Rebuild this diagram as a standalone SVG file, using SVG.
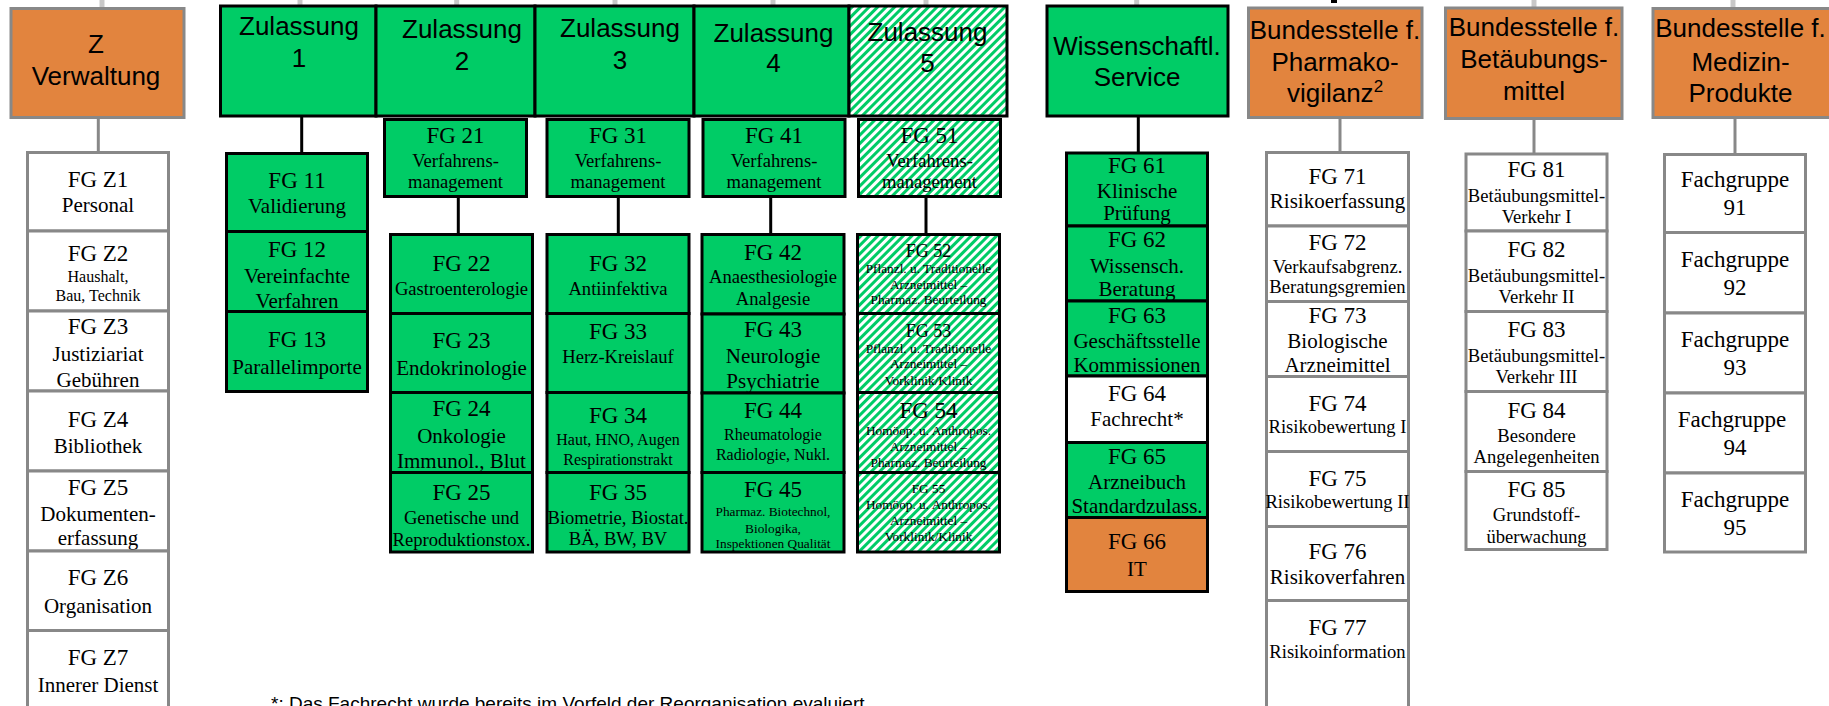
<svg xmlns="http://www.w3.org/2000/svg" width="1829" height="706" viewBox="0 0 1829 706">
<style>
.h{font-family:"Liberation Sans",Arial,sans-serif;font-size:26px;fill:#000;text-anchor:middle}
.t{font-family:"Liberation Serif","Times New Roman",serif;fill:#000;text-anchor:middle}
.l{font-size:23px}.m{font-size:21px}.s{font-size:18.6px}.xs{font-size:16px}.xxs{font-size:13.3px}
.g{fill:#00CC66;stroke:#000;stroke-width:3}
.gh{fill:url(#hatch);stroke:#000;stroke-width:3}
.o{fill:#E2843E;stroke:#888;stroke-width:3}
.ob{fill:#E2843E;stroke:#000;stroke-width:3}
.w{fill:#fff;stroke:#888;stroke-width:3}
.wb{fill:#fff;stroke:#000;stroke-width:3}
.cb{stroke:#000;stroke-width:3;fill:none}
.cg{stroke:#888;stroke-width:3;fill:none}
.st{stroke:#c8c8c8;stroke-width:5;fill:none}
.fn{font-family:"Liberation Sans",Arial,sans-serif;font-size:19px;fill:#000}
</style>
<defs>
<pattern id="hatch" patternUnits="userSpaceOnUse" width="6" height="6" patternTransform="rotate(45)">
<rect width="6" height="6" fill="#fff"/><rect width="3" height="6" fill="#00CC66"/>
</pattern>
</defs>
<rect width="1829" height="706" fill="#fff"/>

<g id="connectors">
<line class="st" x1="102" y1="0" x2="102" y2="8"/>
<line class="st" x1="300" y1="0" x2="300" y2="5"/>
<line class="st" x1="456.7" y1="0" x2="456.7" y2="5"/>
<line class="st" x1="615" y1="0" x2="615" y2="5"/>
<line class="st" x1="773" y1="0" x2="773" y2="5"/>
<line class="st" x1="926" y1="0" x2="926" y2="5"/>
<line class="st" x1="1136.7" y1="0" x2="1136.7" y2="5"/>
<line x1="1334" y1="0" x2="1334" y2="3" stroke="#000" stroke-width="6"/>
<line class="st" x1="1534" y1="0" x2="1534" y2="7"/>
<line class="st" x1="1733" y1="0" x2="1733" y2="8"/>
<line class="cg" x1="98.3" y1="118" x2="98.3" y2="152"/>
<line class="cb" x1="301.7" y1="116" x2="301.7" y2="153"/>
<line class="cb" x1="458.3" y1="197" x2="458.3" y2="234"/>
<line class="cb" x1="618.3" y1="197" x2="618.3" y2="234"/>
<line class="cb" x1="770.7" y1="197" x2="770.7" y2="234"/>
<line class="cb" x1="926" y1="197" x2="926" y2="234"/>
<line class="cb" x1="1138.3" y1="116" x2="1138.3" y2="153"/>
<line class="cg" x1="1340" y1="118" x2="1340" y2="152"/>
<line class="cg" x1="1534" y1="119" x2="1534" y2="154"/>
<line class="cg" x1="1735" y1="118" x2="1735" y2="154"/>
</g>

<!-- Header nodes -->
<g id="z-verwaltung"><rect class="o" x="11" y="8.5" width="173" height="109"/>
<text class="h"><tspan x="96" y="53.3">Z</tspan><tspan x="96" y="85">Verwaltung</tspan></text></g>
<g id="zulassung-1"><rect class="g" x="220.5" y="6" width="155.5" height="110"/>
<text class="h"><tspan x="299" y="35">Zulassung</tspan><tspan x="299" y="66.7">1</tspan></text></g>
<g id="zulassung-2"><rect class="g" x="376" y="6" width="159" height="110"/>
<text class="h"><tspan x="462" y="38">Zulassung</tspan><tspan x="462" y="69.5">2</tspan></text></g>
<g id="zulassung-3"><rect class="g" x="535" y="6" width="159" height="110"/>
<text class="h"><tspan x="620" y="36.7">Zulassung</tspan><tspan x="620" y="69">3</tspan></text></g>
<g id="zulassung-4"><rect class="g" x="694" y="6" width="155" height="110"/>
<text class="h"><tspan x="773.5" y="41.5">Zulassung</tspan><tspan x="773.5" y="71.5">4</tspan></text></g>
<g id="zulassung-5"><rect class="gh" x="849" y="6" width="158" height="110"/>
<text class="h"><tspan x="927.5" y="41">Zulassung</tspan><tspan x="927.5" y="71.5">5</tspan></text></g>
<g id="wiss-service"><rect class="g" x="1047" y="6" width="181" height="110"/>
<text class="h"><tspan x="1137" y="55">Wissenschaftl.</tspan><tspan x="1137" y="86">Service</tspan></text></g>
<g id="bs-pharmakovigilanz"><rect class="o" x="1248.5" y="8" width="173.5" height="109.5"/>
<text class="h"><tspan x="1335" y="39">Bundesstelle f.</tspan><tspan x="1335" y="71">Pharmako-</tspan><tspan x="1335" y="101.7">vigilanz<tspan dy="-10" font-size="17">2</tspan></tspan></text></g>
<g id="bs-betaeubungsmittel"><rect class="o" x="1445.5" y="8" width="176.5" height="110.5"/>
<text class="h"><tspan x="1534" y="35.7">Bundesstelle f.</tspan><tspan x="1534" y="68.3">Betäubungs-</tspan><tspan x="1534" y="100">mittel</tspan></text></g>
<g id="bs-medizinprodukte"><rect class="o" x="1653" y="8.5" width="178" height="109"/>
<text class="h"><tspan x="1740.5" y="36.7">Bundesstelle f.</tspan><tspan x="1740.5" y="71">Medizin-</tspan><tspan x="1740.5" y="101.7">Produkte</tspan></text></g>

<!-- Z column -->
<g id="fg-z1"><rect class="w" x="27.5" y="152.5" width="141" height="78.5"/>
<text class="t"><tspan class="l" x="98" y="186.7">FG Z1</tspan><tspan class="m" x="98" y="212.3">Personal</tspan></text></g>
<g id="fg-z2"><rect class="w" x="27.5" y="231" width="141" height="80"/>
<text class="t"><tspan class="l" x="98" y="260.7">FG Z2</tspan><tspan class="xs" x="98" y="281.7">Haushalt,</tspan><tspan class="xs" x="98" y="300.7">Bau, Technik</tspan></text></g>
<g id="fg-z3"><rect class="w" x="27.5" y="311" width="141" height="80"/>
<text class="t"><tspan class="l" x="98" y="334">FG Z3</tspan><tspan class="m" x="98" y="360.7">Justiziariat</tspan><tspan class="m" x="98" y="386.7">Gebühren</tspan></text></g>
<g id="fg-z4"><rect class="w" x="27.5" y="391" width="141" height="80"/>
<text class="t"><tspan class="l" x="98" y="427.3">FG Z4</tspan><tspan class="m" x="98" y="453.3">Bibliothek</tspan></text></g>
<g id="fg-z5"><rect class="w" x="27.5" y="471" width="141" height="80"/>
<text class="t"><tspan class="l" x="98" y="495">FG Z5</tspan><tspan class="m" x="98" y="521">Dokumenten-</tspan><tspan class="m" x="98" y="545">erfassung</tspan></text></g>
<g id="fg-z6"><rect class="w" x="27.5" y="551" width="141" height="79.5"/>
<text class="t"><tspan class="l" x="98" y="585">FG Z6</tspan><tspan class="m" x="98" y="612.7">Organisation</tspan></text></g>
<g id="fg-z7"><rect class="w" x="27.5" y="630.5" width="141" height="82"/>
<text class="t"><tspan class="l" x="98" y="665">FG Z7</tspan><tspan class="m" x="98" y="691.7">Innerer Dienst</tspan></text></g>

<!-- Zulassung 1 -->
<g id="fg-11"><rect class="g" x="226.5" y="153.5" width="141" height="78"/>
<text class="t"><tspan class="l" x="297" y="188.3">FG 11</tspan><tspan class="m" x="297" y="213.3">Validierung</tspan></text></g>
<g id="fg-12"><rect class="g" x="226.5" y="231.5" width="141" height="80"/>
<text class="t"><tspan class="l" x="297" y="256.7">FG 12</tspan><tspan class="m" x="297" y="282.7">Vereinfachte</tspan><tspan class="m" x="297" y="308.3">Verfahren</tspan></text></g>
<g id="fg-13"><rect class="g" x="226.5" y="311.5" width="141" height="80"/>
<text class="t"><tspan class="l" x="297" y="347.3">FG 13</tspan><tspan class="m" x="297" y="374.3">Parallelimporte</tspan></text></g>

<!-- Zulassung 2 -->
<g id="fg-21"><rect class="g" x="384.5" y="119.5" width="142" height="77"/>
<text class="t"><tspan class="l" x="455.5" y="143.3">FG 21</tspan><tspan class="s" x="455.5" y="166.7">Verfahrens-</tspan><tspan class="s" x="455.5" y="188.3">management</tspan></text></g>
<g id="fg-22"><rect class="g" x="390.5" y="234.5" width="142" height="79"/>
<text class="t"><tspan class="l" x="461.5" y="270.7">FG 22</tspan><tspan class="s" x="461.5" y="295">Gastroenterologie</tspan></text></g>
<g id="fg-23"><rect class="g" x="390.5" y="313.5" width="142" height="79"/>
<text class="t"><tspan class="l" x="461.5" y="348.3">FG 23</tspan><tspan class="m" x="461.5" y="375">Endokrinologie</tspan></text></g>
<g id="fg-24"><rect class="g" x="390.5" y="392.5" width="142" height="80"/>
<text class="t"><tspan class="l" x="461.5" y="416">FG 24</tspan><tspan class="m" x="461.5" y="443.3">Onkologie</tspan><tspan class="m" x="461.5" y="467.7">Immunol., Blut</tspan></text></g>
<g id="fg-25"><rect class="g" x="390.5" y="472.5" width="142" height="79.5"/>
<text class="t"><tspan class="l" x="461.5" y="500">FG 25</tspan><tspan class="s" x="461.5" y="524">Genetische und</tspan><tspan class="s" x="461.5" y="545.7">Reproduktionstox.</tspan></text></g>

<!-- Zulassung 3 -->
<g id="fg-31"><rect class="g" x="547" y="119.5" width="142" height="77"/>
<text class="t"><tspan class="l" x="618" y="143.3">FG 31</tspan><tspan class="s" x="618" y="166.7">Verfahrens-</tspan><tspan class="s" x="618" y="188.3">management</tspan></text></g>
<g id="fg-32"><rect class="g" x="547" y="234.5" width="142" height="79"/>
<text class="t"><tspan class="l" x="618" y="270.7">FG 32</tspan><tspan class="s" x="618" y="295">Antiinfektiva</tspan></text></g>
<g id="fg-33"><rect class="g" x="547" y="313.5" width="142" height="79"/>
<text class="t"><tspan class="l" x="618" y="339.3">FG 33</tspan><tspan class="s" x="618" y="363.3">Herz-Kreislauf</tspan></text></g>
<g id="fg-34"><rect class="g" x="547" y="392.5" width="142" height="80"/>
<text class="t"><tspan class="l" x="618" y="422.7">FG 34</tspan><tspan class="xs" x="618" y="445">Haut, HNO, Augen</tspan><tspan class="xs" x="618" y="465">Respirationstrakt</tspan></text></g>
<g id="fg-35"><rect class="g" x="547" y="472.5" width="142" height="79.5"/>
<text class="t"><tspan class="l" x="618" y="500">FG 35</tspan><tspan class="s" x="618" y="524">Biometrie, Biostat.</tspan><tspan class="s" x="618" y="545">BÄ, BW, BV</tspan></text></g>

<!-- Zulassung 4 -->
<g id="fg-41"><rect class="g" x="703" y="119.5" width="142" height="77"/>
<text class="t"><tspan class="l" x="774" y="143.3">FG 41</tspan><tspan class="s" x="774" y="166.7">Verfahrens-</tspan><tspan class="s" x="774" y="188.3">management</tspan></text></g>
<g id="fg-42"><rect class="g" x="702" y="234.5" width="142" height="79.5"/>
<text class="t"><tspan class="l" x="773" y="260">FG 42</tspan><tspan class="s" x="773" y="283.3">Anaesthesiologie</tspan><tspan class="s" x="773" y="305">Analgesie</tspan></text></g>
<g id="fg-43"><rect class="g" x="702" y="314" width="142" height="79"/>
<text class="t"><tspan class="l" x="773" y="336.7">FG 43</tspan><tspan class="m" x="773" y="363.3">Neurologie</tspan><tspan class="m" x="773" y="388.3">Psychiatrie</tspan></text></g>
<g id="fg-44"><rect class="g" x="702" y="393" width="142" height="79.5"/>
<text class="t"><tspan class="l" x="773" y="418.3">FG 44</tspan><tspan class="xs" x="773" y="440">Rheumatologie</tspan><tspan class="xs" x="773" y="460">Radiologie, Nukl.</tspan></text></g>
<g id="fg-45"><rect class="g" x="702" y="472.5" width="142" height="79.5"/>
<text class="t"><tspan class="l" x="773" y="496.7">FG 45</tspan><tspan class="xxs" x="773" y="516">Pharmaz. Biotechnol,</tspan><tspan class="xxs" x="773" y="532.7">Biologika,</tspan><tspan class="xxs" x="773" y="548.3">Inspektionen Qualität</tspan></text></g>

<!-- Zulassung 5 -->
<g id="fg-51"><rect class="gh" x="858.5" y="119.5" width="142" height="77"/>
<text class="t"><tspan class="l" x="929.5" y="143.3">FG 51</tspan><tspan class="s" x="929.5" y="166.7">Verfahrens-</tspan><tspan class="s" x="929.5" y="188.3">management</tspan></text></g>
<g id="fg-52"><rect class="gh" x="857.5" y="234.5" width="142" height="79"/>
<text class="t"><tspan x="928.5" y="256.7" font-size="18">FG 52</tspan><tspan class="xxs" x="928.5" y="273.3">Pflanzl. u. Traditionelle</tspan><tspan class="xxs" x="928.5" y="289.3">Arzneimittel –</tspan><tspan class="xxs" x="928.5" y="304">Pharmaz. Beurteilung</tspan></text></g>
<g id="fg-53"><rect class="gh" x="857.5" y="313.5" width="142" height="79"/>
<text class="t"><tspan x="928.5" y="336.7" font-size="18">FG 53</tspan><tspan class="xxs" x="928.5" y="353.3">Pflanzl. u. Traditionelle</tspan><tspan class="xxs" x="928.5" y="368.3">Arzneimittel –</tspan><tspan class="xxs" x="928.5" y="385">Vorklinik/Klinik</tspan></text></g>
<g id="fg-54"><rect class="gh" x="857.5" y="392.5" width="142" height="80"/>
<text class="t"><tspan class="l" x="928.5" y="418.3">FG 54</tspan><tspan class="xxs" x="928.5" y="435">Homöop. u. Anthropos.</tspan><tspan class="xxs" x="928.5" y="450.7">Arzneimittel –</tspan><tspan class="xxs" x="928.5" y="466.7">Pharmaz. Beurteilung</tspan></text></g>
<g id="fg-55"><rect class="gh" x="857.5" y="472.5" width="142" height="79.5"/>
<text class="t"><tspan class="xxs" x="928.5" y="493.3">FG 55</tspan><tspan class="xxs" x="928.5" y="509.3">Homöop. u. Anthropos.</tspan><tspan class="xxs" x="928.5" y="525">Arzneimittel –</tspan><tspan class="xxs" x="928.5" y="541">Vorklinik/Klinik</tspan></text></g>

<!-- Wissenschaftl. Service -->
<g id="fg-61"><rect class="g" x="1066.5" y="153" width="141" height="73"/>
<text class="t"><tspan class="l" x="1137" y="172.7">FG 61</tspan><tspan class="m" x="1137" y="198.3">Klinische</tspan><tspan class="m" x="1137" y="220">Prüfung</tspan></text></g>
<g id="fg-62"><rect class="g" x="1066.5" y="226" width="141" height="75"/>
<text class="t"><tspan class="l" x="1137" y="246.7">FG 62</tspan><tspan class="m" x="1137" y="272.7">Wissensch.</tspan><tspan class="m" x="1137" y="295.7">Beratung</tspan></text></g>
<g id="fg-63"><rect class="g" x="1066.5" y="301" width="141" height="75"/>
<text class="t"><tspan class="l" x="1137" y="322.7">FG 63</tspan><tspan class="m" x="1137" y="347.7">Geschäftsstelle</tspan><tspan class="m" x="1137" y="371.7">Kommissionen</tspan></text></g>
<g id="fg-64"><rect class="wb" x="1066.5" y="376" width="141" height="66.5"/>
<text class="t"><tspan class="l" x="1137" y="400.7">FG 64</tspan><tspan class="m" x="1137" y="425.7">Fachrecht*</tspan></text></g>
<g id="fg-65"><rect class="g" x="1066.5" y="442.5" width="141" height="75"/>
<text class="t"><tspan class="l" x="1137" y="464">FG 65</tspan><tspan class="m" x="1137" y="489.3">Arzneibuch</tspan><tspan class="m" x="1137" y="513.3">Standardzulass.</tspan></text></g>
<g id="fg-66"><rect class="ob" x="1066.5" y="517.5" width="141" height="74"/>
<text class="t"><tspan class="l" x="1137" y="549.3">FG 66</tspan><tspan class="m" x="1137" y="576">IT</tspan></text></g>

<!-- Pharmakovigilanz -->
<g id="fg-71"><rect class="w" x="1266.5" y="152.5" width="142" height="73.5"/>
<text class="t"><tspan class="l" x="1337.5" y="184.3">FG 71</tspan><tspan class="m" x="1337.5" y="208.3">Risikoerfassung</tspan></text></g>
<g id="fg-72"><rect class="w" x="1266.5" y="226" width="142" height="75.5"/>
<text class="t"><tspan class="l" x="1337.5" y="250">FG 72</tspan><tspan class="s" x="1337.5" y="273.3">Verkaufsabgrenz.</tspan><tspan class="s" x="1337.5" y="292.7">Beratungsgremien</tspan></text></g>
<g id="fg-73"><rect class="w" x="1266.5" y="301.5" width="142" height="75"/>
<text class="t"><tspan class="l" x="1337.5" y="322.7">FG 73</tspan><tspan class="m" x="1337.5" y="347.7">Biologische</tspan><tspan class="m" x="1337.5" y="371.7">Arzneimittel</tspan></text></g>
<g id="fg-74"><rect class="w" x="1266.5" y="376.5" width="142" height="75"/>
<text class="t"><tspan class="l" x="1337.5" y="410.7">FG 74</tspan><tspan class="s" x="1337.5" y="433.3">Risikobewertung I</tspan></text></g>
<g id="fg-75"><rect class="w" x="1266.5" y="451.5" width="142" height="75"/>
<text class="t"><tspan class="l" x="1337.5" y="485.7">FG 75</tspan><tspan class="s" x="1337.5" y="507.7">Risikobewertung II</tspan></text></g>
<g id="fg-76"><rect class="w" x="1266.5" y="526.5" width="142" height="74"/>
<text class="t"><tspan class="l" x="1337.5" y="559.3">FG 76</tspan><tspan class="m" x="1337.5" y="584.3">Risikoverfahren</tspan></text></g>
<g id="fg-77"><rect class="w" x="1266.5" y="600.5" width="142" height="112"/>
<text class="t"><tspan class="l" x="1337.5" y="635">FG 77</tspan><tspan class="s" x="1337.5" y="657.7">Risikoinformation</tspan></text></g>

<!-- Betäubungsmittel -->
<g id="fg-81"><rect class="w" x="1466" y="154" width="141" height="77"/>
<text class="t"><tspan class="l" x="1536.5" y="176.7">FG 81</tspan><tspan class="s" x="1536.5" y="201.7">Betäubungsmittel-</tspan><tspan class="s" x="1536.5" y="222.7">Verkehr I</tspan></text></g>
<g id="fg-82"><rect class="w" x="1466" y="231" width="141" height="80.5"/>
<text class="t"><tspan class="l" x="1536.5" y="257.3">FG 82</tspan><tspan class="s" x="1536.5" y="281.7">Betäubungsmittel-</tspan><tspan class="s" x="1536.5" y="303.3">Verkehr II</tspan></text></g>
<g id="fg-83"><rect class="w" x="1466" y="311.5" width="141" height="80"/>
<text class="t"><tspan class="l" x="1536.5" y="337.3">FG 83</tspan><tspan class="s" x="1536.5" y="361.7">Betäubungsmittel-</tspan><tspan class="s" x="1536.5" y="383.3">Verkehr III</tspan></text></g>
<g id="fg-84"><rect class="w" x="1466" y="391.5" width="141" height="80"/>
<text class="t"><tspan class="l" x="1536.5" y="418.3">FG 84</tspan><tspan class="s" x="1536.5" y="441.7">Besondere</tspan><tspan class="s" x="1536.5" y="463.3">Angelegenheiten</tspan></text></g>
<g id="fg-85"><rect class="w" x="1466" y="471.5" width="141" height="78"/>
<text class="t"><tspan class="l" x="1536.5" y="496.7">FG 85</tspan><tspan class="s" x="1536.5" y="520.7">Grundstoff-</tspan><tspan class="s" x="1536.5" y="542.7">überwachung</tspan></text></g>

<!-- Medizinprodukte -->
<g id="fg-91"><rect class="w" x="1664.5" y="154.5" width="141" height="78"/>
<text class="t"><tspan class="l" x="1735" y="187.3">Fachgruppe</tspan><tspan class="l" x="1735" y="215">91</tspan></text></g>
<g id="fg-92"><rect class="w" x="1664.5" y="232.5" width="141" height="80.5"/>
<text class="t"><tspan class="l" x="1735" y="267.3">Fachgruppe</tspan><tspan class="l" x="1735" y="295">92</tspan></text></g>
<g id="fg-93"><rect class="w" x="1664.5" y="313" width="141" height="80"/>
<text class="t"><tspan class="l" x="1735" y="347.3">Fachgruppe</tspan><tspan class="l" x="1735" y="375">93</tspan></text></g>
<g id="fg-94"><rect class="w" x="1664.5" y="393" width="141" height="80"/>
<text class="t"><tspan class="l" x="1732" y="427.3">Fachgruppe</tspan><tspan class="l" x="1735" y="455">94</tspan></text></g>
<g id="fg-95"><rect class="w" x="1664.5" y="473" width="141" height="79"/>
<text class="t"><tspan class="l" x="1735" y="507.3">Fachgruppe</tspan><tspan class="l" x="1735" y="535">95</tspan></text></g>

<text class="fn" x="271" y="710">*: Das Fachrecht wurde bereits im Vorfeld der Reorganisation evaluiert</text>
</svg>
